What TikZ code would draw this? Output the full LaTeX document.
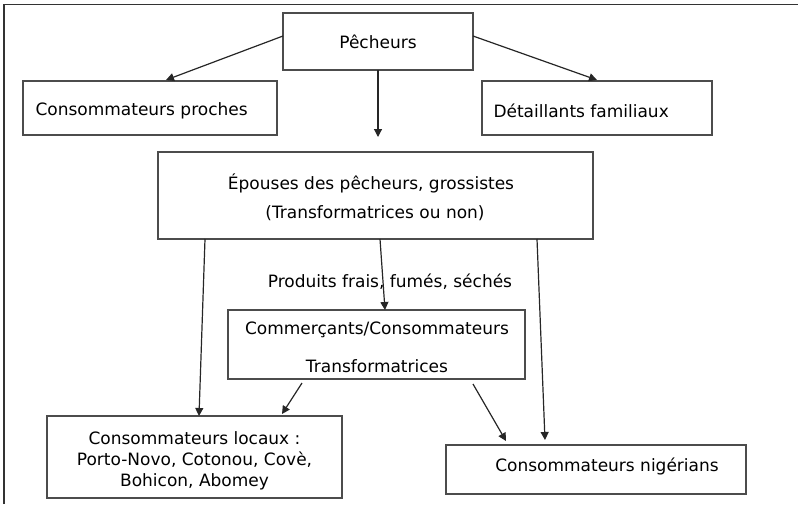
\documentclass[tikz,border=0pt]{standalone}
\usepackage{fontspec}
\setmainfont{DejaVu Sans}
\usetikzlibrary{arrows.meta}
\begin{document}
\begin{tikzpicture}[x=1pt,y=-1pt,
  box/.style={draw=black!70, line width=1.4pt, inner sep=0pt},
  lbl/.style={inner sep=0pt, font=\fontsize{17}{20}\selectfont},
  arr/.style={draw=black!85, line width=1.2pt, -{Triangle[length=8pt,width=8pt]}},
  frame/.style={draw=black!80, line width=1.3pt}]
\useasboundingbox (0,0) rectangle (798,504);
\draw[frame] (4,504) -- (4,4.5) -- (798,4.5);
% boxes
\node[box, minimum width=190, minimum height=57] (pech) at (378,41.5) {};
\node[lbl] at (pech.center) {Pêcheurs};
\node[box, minimum width=254, minimum height=54] (proches) at (150,108) {};
\node[lbl, anchor=west] at ([xshift=13pt,yshift=-3pt]proches.west) {Consommateurs proches};
\node[box, minimum width=230, minimum height=54] (detail) at (597,108) {};
\node[lbl, anchor=west] at ([xshift=12pt,yshift=-3pt]detail.west) {Détaillants familiaux};
\node[box, minimum width=435, minimum height=87] (epouses) at (375.5,195.5) {};
\node[lbl] at (371,183) {Épouses des pêcheurs, grossistes};
\node[lbl] at (375,213) {(Transformatrices ou non)};
\node[lbl] (prod) at (390,282) {Produits frais, fumés, séchés};
\node[box, minimum width=297, minimum height=69] (comm) at (376.5,344.5) {};
\node[lbl] at (377,330) {Commerçants/Consommateurs};
\node[lbl] at (377,366) {Transformatrices};
\node[box, minimum width=295, minimum height=82] (locaux) at (194.5,457) {};
\node[lbl] at (194.5,438) {Consommateurs locaux :};
\node[lbl] at (194.5,460) {Porto-Novo, Cotonou, Covè,};
\node[lbl] at (194.5,482) {Bohicon, Abomey};
\node[box, minimum width=300, minimum height=49] (nig) at (596,469.5) {};
\node[lbl] at (607,466) {Consommateurs nigérians};
% coordinates for arrow ends
\coordinate (a1s) at (283,36); \coordinate (a1e) at (166,80);
\coordinate (a2s) at (473,36); \coordinate (a2e) at (597,80);
\coordinate (a3s) at (378,70); \coordinate (a3e) at (378,137);
\coordinate (a4s) at (380,239); \coordinate (a4e) at (385,310);
\coordinate (a5s) at (205,239); \coordinate (a5e) at (199,416);
\coordinate (a6s) at (537,239); \coordinate (a6e) at (545,440);
\coordinate (a7s) at (302,383); \coordinate (a7e) at (282,414);
\coordinate (a8s) at (473,384); \coordinate (a8e) at (506,441);
\draw[arr] (a1s) -- (a1e);
\draw[arr] (a2s) -- (a2e);
\draw[arr] (a3s) -- (a3e);
\draw[arr] (a4s) -- (a4e);
\draw[arr] (a5s) -- (a5e);
\draw[arr] (a6s) -- (a6e);
\draw[arr] (a7s) -- (a7e);
\draw[arr] (a8s) -- (a8e);
\end{tikzpicture}
\end{document}
